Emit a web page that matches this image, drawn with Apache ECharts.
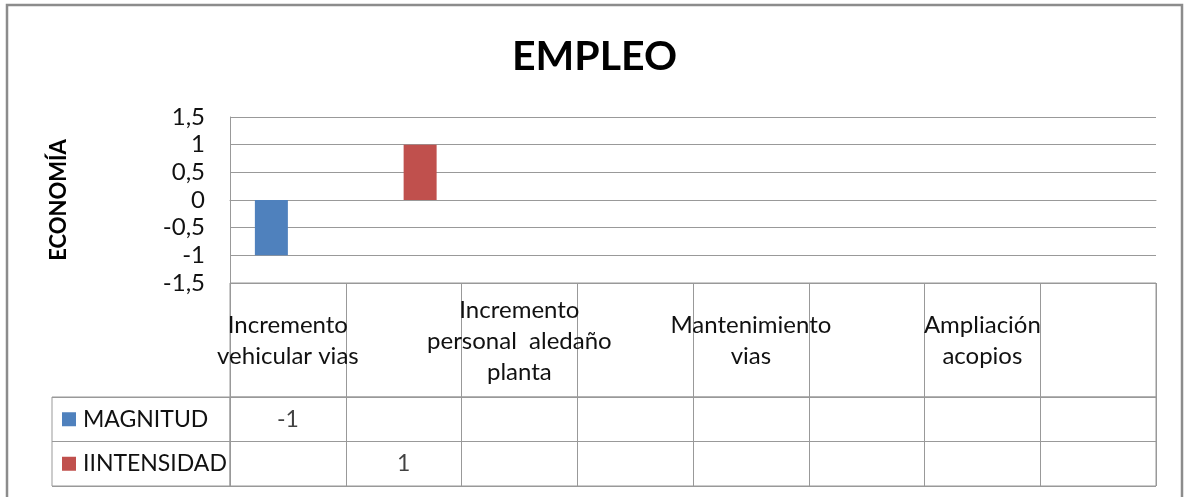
<!DOCTYPE html>
<html>
<head>
<meta charset="utf-8">
<script src="https://cdn.jsdelivr.net/npm/echarts@6/dist/echarts.min.js"></script>
<style>
  html, body { margin: 0; padding: 0; background: #fff; }
  #chart { width: 1189px; height: 497px; }
</style>
</head>
<body>
<div id="chart"></div>
<script>
// categorías (las columnas vacías también son categorías en la tabla)
const categories = [
  'Incremento\nvehicular vias', '',
  'Incremento\npersonal  aledaño\nplanta', '',
  'Mantenimiento\nvias', '',
  'Ampliación\nacopios', ''
];
const seriesNames = ['MAGNITUD', 'IINTENSIDAD'];
const magnitud = [-1, null, null, null, null, null, null, null];
const intensidad = [null, 1, null, null, null, null, null, null];
const yMin = -1.5, yMax = 1.5, yStep = 0.5;

const colors = ['#4F81BD', '#C0504D'];
const lineColor = '#999999';
const font = 'Lato, "Open Sans", sans-serif';
const textColor = '#111';

// celdas de la tabla de datos
const cellData = (vals, row) =>
  vals.map((v, i) => (v == null ? null : [i, row, v])).filter(d => d);

const tableAxisX = idx => ({
  type: 'category', gridIndex: idx, data: categories,
  axisLine: { show: false }, axisTick: { show: false }, axisLabel: { show: false },
  splitLine: { show: true, interval: 0, lineStyle: { color: lineColor } }
});

const chart = echarts.init(document.getElementById('chart'));

chart.setOption({
  animation: false,
  textStyle: { fontFamily: font },
  title: {
    text: 'EMPLEO', left: 'center', top: 31,
    textStyle: { fontSize: 41, fontWeight: 'bold', color: '#000', fontFamily: font }
  },
  graphic: [{
    type: 'rect', silent: true,
    shape: { x: 7, y: 5, width: 1175, height: 520 },
    style: { fill: 'none', stroke: '#8c8c8c', lineWidth: 2.5 }
  }],
  grid: [
    { left: 230, right: 33, top: 117, height: 166, outerBoundsMode: 'none', containLabel: false },
    { left: 230, right: 33, top: 283, height: 114, show: true, borderColor: lineColor, borderWidth: 1, outerBoundsMode: 'none', containLabel: false },
    { left: 230, right: 33, top: 397, height: 89, show: true, borderColor: lineColor, borderWidth: 1, outerBoundsMode: 'none', containLabel: false },
    { left: 52, width: 178, top: 397, height: 89, show: true, borderColor: lineColor, borderWidth: 1, outerBoundsMode: 'none', containLabel: false }
  ],
  xAxis: [
    {
      type: 'category', gridIndex: 0, data: categories,
      axisLine: { show: true, lineStyle: { color: lineColor } },
      axisTick: { show: false },
      axisLabel: {
        interval: 0, margin: 58, verticalAlign: 'middle',
        fontSize: 24, lineHeight: 31, color: textColor, fontFamily: font
      }
    },
    tableAxisX(1),
    tableAxisX(2),
    { type: 'value', gridIndex: 3, show: false }
  ],
  yAxis: [
    {
      type: 'value', gridIndex: 0, min: yMin, max: yMax, interval: yStep,
      name: 'ECONOMÍA', nameLocation: 'middle', nameRotate: 90, nameGap: 160,
      nameTextStyle: { fontSize: 22, fontWeight: 'bold', color: '#000', fontFamily: font },
      axisLine: { show: true, lineStyle: { color: lineColor } },
      axisTick: { show: false },
      splitLine: { lineStyle: { color: lineColor } },
      axisLabel: {
        margin: 25, fontSize: 24, color: textColor, fontFamily: font,
        formatter: v => String(v).replace('.', ',')
      }
    },
    {
      type: 'value', gridIndex: 1, min: 0, max: 1, show: false, splitLine: { show: false }
    },
    {
      type: 'category', gridIndex: 2, data: seriesNames, inverse: true,
      axisLine: { show: false }, axisTick: { show: false }, axisLabel: { show: false },
      splitLine: { show: true, interval: 0, lineStyle: { color: lineColor } }
    },
    {
      type: 'category', gridIndex: 3, data: seriesNames, inverse: true,
      axisLine: { show: false }, axisTick: { show: false },
      splitLine: { show: true, interval: 0, lineStyle: { color: lineColor } },
      axisLabel: {
        inside: true, margin: 10,
        formatter: (v, i) => `{sq${i}|}{t|${v}}`,
        rich: {
          sq0: { width: 14, height: 14, backgroundColor: colors[0] },
          sq1: { width: 14, height: 14, backgroundColor: colors[1] },
          t: { fontSize: 23, color: textColor, padding: [0, 0, 0, 7], fontFamily: font }
        }
      }
    }
  ],
  series: [
    {
      name: seriesNames[0], type: 'bar', xAxisIndex: 0, yAxisIndex: 0,
      data: magnitud, barWidth: 33, barGap: '0%', itemStyle: { color: colors[0] }
    },
    {
      name: seriesNames[1], type: 'bar', xAxisIndex: 0, yAxisIndex: 0,
      data: intensidad, barWidth: 33, barGap: '0%', itemStyle: { color: colors[1] }
    },
    {
      type: 'scatter', xAxisIndex: 2, yAxisIndex: 2, symbolSize: 1,
      itemStyle: { color: 'transparent' },
      data: cellData(magnitud, seriesNames[0]).concat(cellData(intensidad, seriesNames[1])),
      label: {
        show: true, position: 'inside', fontSize: 23, color: textColor, fontFamily: font,
        formatter: p => String(p.value[2])
      }
    }
  ]
});
</script>
</body>
</html>
